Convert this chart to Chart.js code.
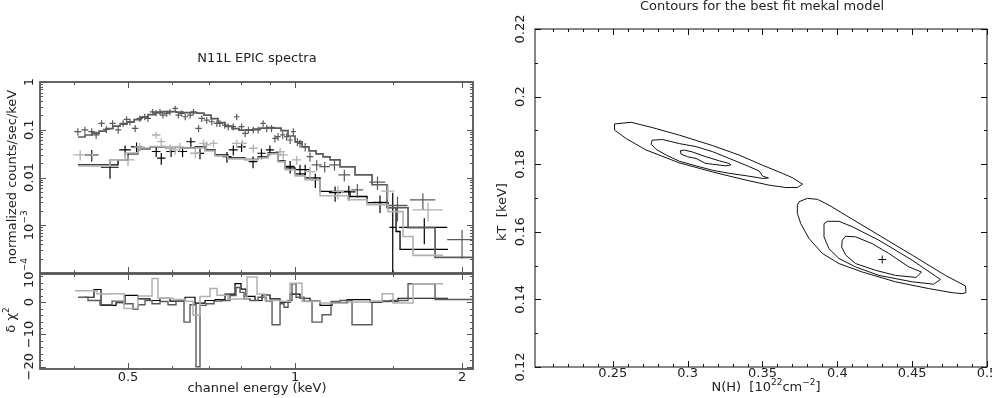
<!DOCTYPE html>
<html>
<head>
<meta charset="utf-8">
<title>N11L EPIC spectra</title>
<script src="https://cdn.jsdelivr.net/npm/chart.js@4.4.1/dist/chart.umd.min.js"></script>
<style>
  html, body { margin: 0; padding: 0; background: #fff; }
  #wrap { position: relative; width: 992px; height: 398px; overflow: hidden; }
  #wrap canvas { position: absolute; left: 0; top: 0; }
</style>
</head>
<body>
<div id="wrap">
  <canvas id="spec" width="992" height="398"></canvas>
  <canvas id="resid" width="992" height="398"></canvas>
  <canvas id="cont" width="992" height="398"></canvas>
</div>
<script>
// pn spectrum (upper, dark grey): keV, counts/sec/keV
const pnEnergy = [0.406,0.418,0.430,0.438,0.448,0.457,0.469,0.480,0.490,0.497,
  0.504,0.515,0.525,0.536,0.543,0.554,0.562,0.571,0.578,0.587,
  0.595,0.608,0.616,0.625,0.634,0.647,0.656,0.670,0.679,0.693,
  0.708,0.723,0.732,0.747,0.758,0.774,0.785,0.801,0.813,0.824,
  0.841,0.858,0.876,0.889,0.907,0.920,0.932,0.950,0.966,0.980,
  0.993,1.010,1.021,1.043,1.064,1.094,1.131,1.178,1.227,1.295,
  1.408,1.530,1.700,2.000];
const pnEnergyErr = [0.006,0.006,0.006,0.006,0.006,0.006,0.006,0.006,0.006,0.006,
  0.007,0.007,0.007,0.007,0.007,0.007,0.007,0.007,0.007,0.007,
  0.007,0.007,0.007,0.007,0.007,0.008,0.008,0.009,0.009,0.009,
  0.009,0.009,0.009,0.009,0.009,0.009,0.009,0.010,0.010,0.010,
  0.010,0.010,0.010,0.010,0.010,0.010,0.010,0.010,0.010,0.010,
  0.010,0.010,0.011,0.012,0.015,0.023,0.025,0.025,0.030,0.032,
  0.047,0.065,0.090,0.120];
const pnFlux = [0.091,0.099,0.091,0.078,0.136,0.102,0.136,0.099,0.136,0.165,
  0.147,0.107,0.173,0.187,0.173,0.237,0.226,0.237,0.203,0.220,
  0.237,0.280,0.203,0.220,0.187,0.203,0.237,0.107,0.173,0.159,
  0.147,0.136,0.136,0.125,0.116,0.116,0.187,0.116,0.084,0.099,
  0.099,0.099,0.136,0.107,0.107,0.066,0.072,0.078,0.072,0.061,
  0.091,0.056,0.052,0.044,0.0274,0.0184,0.0169,0.0184,0.0114,0.0055,
  0.0080,0.0026,0.0034,0.0005];
const pnFluxErr = [0.016,0.017,0.016,0.014,0.022,0.017,0.022,0.017,0.022,0.026,
  0.024,0.018,0.027,0.029,0.027,0.035,0.034,0.035,0.031,0.033,
  0.035,0.040,0.031,0.033,0.029,0.031,0.035,0.018,0.027,0.025,
  0.023,0.022,0.022,0.020,0.019,0.019,0.029,0.019,0.014,0.016,
  0.016,0.016,0.022,0.018,0.018,0.012,0.013,0.014,0.013,0.011,
  0.016,0.011,0.010,0.009,0.006,0.0045,0.0042,0.0045,0.0032,0.0018,
  0.0025,0.0014,0.0013,0.0003];

// MOS1 spectrum (black)
const mos1Energy = [0.430,0.464,0.494,0.518,0.562,0.574,0.598,0.627,0.649,0.674,
  0.754,0.774,0.801,0.840,0.870,0.901,0.980,1.021,1.043,1.088,
  1.181,1.250,1.423,1.500,1.710];
const mos1EnergyErr = [0.012,0.017,0.012,0.012,0.010,0.010,0.012,0.012,0.012,0.012,
  0.014,0.014,0.014,0.015,0.015,0.015,0.018,0.020,0.020,0.022,
  0.030,0.035,0.040,0.020,0.170];
const mos1Flux = [0.0297,0.0164,0.0378,0.044,0.035,0.0254,0.035,0.035,0.056,0.032,
  0.0274,0.0378,0.044,0.0216,0.0322,0.0378,0.0171,0.0146,0.0146,0.0090,
  0.0048,0.0050,0.0030,0.0009,0.0009];
const mos1FluxErr = [0.008,0.007,0.009,0.010,0.008,0.007,0.008,0.008,0.012,0.008,
  0.007,0.009,0.010,0.006,0.008,0.009,0.005,0.004,0.004,0.003,
  0.0017,0.0017,0.0012,0.0039,0.0005];

// MOS2 spectrum (light grey)
const mos2Energy = [0.410,0.431,0.500,0.525,0.562,0.574,0.595,0.608,0.620,0.661,
  0.684,0.693,0.713,0.785,0.804,0.841,0.940,0.952,1.007,1.064,
  1.195,1.470,1.737];
const mos2EnergyErr = [0.012,0.012,0.014,0.012,0.010,0.010,0.012,0.012,0.012,0.014,
  0.012,0.012,0.012,0.015,0.015,0.015,0.018,0.018,0.020,0.025,
  0.030,0.040,0.108];
const mos2Flux = [0.0297,0.0297,0.0234,0.044,0.0776,0.0562,0.041,0.0378,0.044,0.0322,
  0.052,0.048,0.052,0.052,0.052,0.041,0.0348,0.0297,0.0234,0.0133,
  0.0051,0.0052,0.0021];
const mos2FluxErr = [0.007,0.007,0.006,0.009,0.012,0.010,0.008,0.008,0.009,0.007,
  0.010,0.009,0.010,0.010,0.010,0.008,0.007,0.006,0.005,0.0035,
  0.0016,0.0016,0.0009];

// folded models, bin edges (keV) and values
const pnModelEdges = [0.4063,0.4183,0.4306,0.4434,0.4564,0.4698,0.4837,0.4979,0.5126,0.5277,
  0.5433,0.5593,0.5758,0.5928,0.6102,0.6282,0.6467,0.6658,0.6854,0.7057,
  0.7265,0.7479,0.7699,0.7926,0.8160,0.8400,0.8648,0.8903,0.9165,0.9436,
  0.9714,1.0,1.0295,1.0599,1.0911,1.1233,1.1564,1.2054,1.2828,1.3766,
  1.4650,1.5984,1.7881,2.1286];
const pnModel = [0.0705,0.0776,0.0853,0.094,0.106,0.119,0.131,0.145,0.163,0.184,
  0.207,0.228,0.239,0.239,0.234,0.228,0.228,0.223,0.202,0.171,
  0.141,0.119,0.106,0.0986,0.0986,0.1035,0.1085,0.111,0.1085,0.0962,
  0.074,0.0555,0.0436,0.036,0.0312,0.027,0.0234,0.0167,0.0114,0.00705,
  0.00234,0.000895,0.000212];
const mos1ModelEdges = [0.4063,0.4797,0.5,0.5212,0.5478,0.5830,0.6205,0.6603,0.6883,0.7175,
  0.7572,0.8126,0.8577,0.8940,0.9319,0.9593,1.0,1.0424,1.1093,1.2564,
  1.3483,1.4711,1.5208,1.5462,1.8872];
const mos1Model = [0.0184,0.0234,0.0312,0.0396,0.0436,0.0427,0.0416,0.0436,0.0378,0.0297,
  0.0257,0.0239,0.027,0.0327,0.0223,0.0159,0.0119,0.00986,0.0051,0.004,
  0.00297,0.00234,0.00074,0.000312];
const mos2ModelEdges = [0.4063,0.4640,0.4938,0.5212,0.5478,0.5830,0.6205,0.6603,0.6883,0.7175,
  0.7572,0.8126,0.8577,0.8940,0.9319,0.9593,1.0,1.0424,1.1093,1.2461,
  1.3483,1.4711,1.5656,1.6319,1.8484];
const mos2Model = [0.0175,0.0234,0.0327,0.0416,0.0446,0.0427,0.0416,0.0416,0.036,0.0283,
  0.0245,0.0234,0.0257,0.0312,0.0212,0.0145,0.0108,0.00896,0.00416,0.00343,
  0.0027,0.00193,0.000582,0.000234];

// residuals (delta chi^2), bin edges (keV) and values
const pnResEdges = [0.4063,0.4235,0.4451,0.4679,0.4918,0.5105,0.5212,0.5366,0.5524,0.5710,
  0.5903,0.6102,0.6308,0.6467,0.6630,0.6741,0.6911,0.7145,0.7386,0.7635,
  0.7828,0.7959,0.8092,0.8296,0.8577,0.8866,0.9090,0.9397,0.9554,0.9714,
  0.9876,1.0042,1.0381,1.0731,1.1186,1.1612,1.2054,1.2669,1.3766,1.4834,
  1.5984,1.7881,2.1110];
const pnRes = [1.5,0.5,-0.8,0.3,-0.5,-2.2,-0.8,0.5,-0.5,0.2,
  -0.8,0.3,-6.2,-0.8,-20,-1.0,-0.5,0.3,0.5,2.0,
  4.5,3.0,1.0,0.5,1.5,0.3,-7.0,-0.5,-1.6,0.5,
  5.7,1.5,0.3,-6.2,-3.9,0.2,0.5,-7.0,0.2,0.5,
  5.7,0.8];
const mos1ResEdges = [0.4165,0.4342,0.4470,0.4757,0.4938,0.5212,0.5478,0.5710,0.5952,0.6335,
  0.6603,0.6883,0.7175,0.7479,0.7796,0.7992,0.8160,0.8470,0.8720,0.9014,
  0.9397,0.9795,1.0210,1.0643,1.1093,1.1660,1.2409,1.3652,1.4349,1.5334,
  1.8872];
const mos1Res = [1.5,3.9,-1.0,-0.2,2.1,1.0,0.5,1.2,0.3,1.5,
  -0.3,0.5,0.8,2.5,5.7,4.0,1.8,0.5,2.2,1.0,
  0.0,2.5,1.2,0.3,-1.0,-0.2,0.8,0.0,0.3,1.2];
const mos2ResEdges = [0.4013,0.4396,0.4640,0.4918,0.5212,0.5524,0.5663,0.6027,0.6335,0.6548,
  0.6741,0.7027,0.7234,0.7572,0.8194,0.8541,0.8829,0.9397,0.9795,1.0295,
  1.1093,1.2461,1.3652,1.4349,1.5019,1.6319,1.8484];
const mos2Res = [3.5,2.5,2.6,-2.0,1.9,7.3,1.2,0.8,0.3,-4.0,
  1.7,4.2,2.1,1.0,7.8,2.5,0.5,0.3,5.8,0.2,
  -0.3,0.0,0.3,2.6,-0.3,5.7];

// axis ticks for the spectrum panels
const specXMajor = [0.5, 1, 2];
const specXMinor = [0.4, 0.6, 0.7, 0.8, 0.9, 1.5];
const specXLabels = ['0.5', '1', '2'];
const specYDecades = [1e-4, 1e-3, 0.01, 0.1, 1];
const specYLabels = ['10^{\u22124}', '10^{\u22123}', '0.01', '0.1', '1'];
const residYMajor = [-20, -10, 0];
const residYMinor = [-18, -16, -14, -12, -8, -6, -4, -2, 2, 4, 6, 8];
const residYLabels = ['\u221220', '\u221210', '0'];

// confidence contours, N(H) [1e22 cm^-2] vs kT [keV]
const upperOuter = [[0.2511,0.1919],[0.2622,0.1924],[0.2767,0.1908],[0.2944,0.1886],[0.3167,0.1855],
  [0.3344,0.1827],[0.3500,0.1797],[0.3633,0.1773],[0.3700,0.1760],[0.3767,0.1741],
  [0.3733,0.1731],[0.3656,0.1731],[0.3544,0.1738],[0.3389,0.1753],[0.3167,0.1777],
  [0.2944,0.1804],[0.2722,0.1842],[0.2589,0.1876],[0.2511,0.1901],[0.2511,0.1919]];
const upperMiddle = [[0.2762,0.1871],[0.2833,0.1873],[0.2944,0.1861],[0.3056,0.1852],[0.3167,0.1837],
  [0.3278,0.1817],[0.3389,0.1797],[0.3478,0.1780],[0.3500,0.1765],[0.3540,0.1759],
  [0.3500,0.1758],[0.3389,0.1766],[0.3278,0.1773],[0.3167,0.1782],[0.3056,0.1795],
  [0.2944,0.1809],[0.2856,0.1827],[0.2789,0.1844],[0.2756,0.1859],[0.2762,0.1871]];
const upperInner = [[0.2951,0.1840],[0.2978,0.1842],[0.3033,0.1836],[0.3122,0.1822],[0.3211,0.1810],
  [0.3278,0.1802],[0.3289,0.1798],[0.3256,0.1795],[0.3167,0.1800],[0.3122,0.1802],
  [0.3056,0.1817],[0.3000,0.1822],[0.2956,0.1830],[0.2951,0.1840]];
const lowerOuter = [[0.3733,0.1679],[0.3744,0.1689],[0.3800,0.1699],[0.3867,0.1696],[0.3944,0.1679],
  [0.4056,0.1649],[0.4278,0.1590],[0.4500,0.1531],[0.4722,0.1471],[0.4856,0.1440],
  [0.4860,0.1420],[0.4833,0.1417],[0.4767,0.1420],[0.4611,0.1432],[0.4389,0.1452],
  [0.4167,0.1481],[0.4011,0.1506],[0.3900,0.1536],[0.3811,0.1580],[0.3756,0.1624],
  [0.3733,0.1654],[0.3733,0.1679]];
const lowerMiddle = [[0.3911,0.1624],[0.3933,0.1631],[0.4011,0.1631],[0.4100,0.1615],[0.4278,0.1575],
  [0.4500,0.1516],[0.4689,0.1459],[0.4644,0.1445],[0.4500,0.1452],[0.4278,0.1471],
  [0.4122,0.1496],[0.4011,0.1521],[0.3944,0.1550],[0.3911,0.1585],[0.3911,0.1605],[0.3911,0.1624]];
const lowerInner = [[0.4033,0.1575],[0.4056,0.1587],[0.4122,0.1585],[0.4233,0.1565],[0.4344,0.1536],
  [0.4478,0.1496],[0.4562,0.1481],[0.4527,0.1465],[0.4389,0.1471],[0.4256,0.1486],
  [0.4122,0.1506],[0.4056,0.1531],[0.4029,0.1555],[0.4033,0.1575]];
const bestFit = [0.430, 0.1518];

const contXMajor = [0.25, 0.3, 0.35, 0.4, 0.45, 0.5];
const contXLabels = ['0.25', '0.3', '0.35', '0.4', '0.45', '0.5'];
const contYMajor = [0.12, 0.14, 0.16, 0.18, 0.2, 0.22];
const contYLabels = ['0.12', '0.14', '0.16', '0.18', '0.2', '0.22'];

const FONT = '"DejaVu Sans", sans-serif';
const DARK = '#5a5a5a', LIGHT = '#b0b0b0', BLACK = '#000';

// split "10^{22}" style strings into normal / superscript runs
function richParts(str) {
  const parts = [];
  const re = /\^\{([^}]*)\}/g;
  let last = 0, m;
  while ((m = re.exec(str))) {
    if (m.index > last) parts.push({ t: str.slice(last, m.index), sup: false });
    parts.push({ t: m[1], sup: true });
    last = re.lastIndex;
  }
  if (last < str.length) parts.push({ t: str.slice(last), sup: false });
  return parts;
}

function drawRich(ctx, str, x, y, size, rot) {
  const parts = richParts(str);
  const supSize = Math.round(size * 0.72);
  let w = 0;
  parts.forEach(p => {
    ctx.font = (p.sup ? supSize : size) + 'px ' + FONT;
    p.w = ctx.measureText(p.t).width;
    w += p.w;
  });
  ctx.save();
  ctx.translate(x, y);
  if (rot) ctx.rotate(rot);
  ctx.textBaseline = 'middle';
  ctx.textAlign = 'left';
  let cx = -w / 2;
  parts.forEach(p => {
    ctx.font = (p.sup ? supSize : size) + 'px ' + FONT;
    ctx.fillText(p.t, cx, p.sup ? -size * 0.42 : 0);
    cx += p.w;
  });
  ctx.restore();
}

// box frame with inward ticks on all sides, plus labels
const framePlugin = {
  id: 'frame',
  afterDraw(chart, args, o) {
    const { ctx, chartArea: a } = chart;
    const sx = chart.scales.x, sy = chart.scales.y;
    ctx.save();
    ctx.strokeStyle = o.color;
    ctx.lineWidth = o.width;
    ctx.strokeRect(a.left, a.top, a.right - a.left, a.bottom - a.top);
    ctx.lineWidth = o.tickWidth;
    ctx.beginPath();
    const xt = (list, len) => list.forEach(v => {
      const p = Math.round(sx.getPixelForValue(v)) + 0.5;
      ctx.moveTo(p, a.bottom); ctx.lineTo(p, a.bottom - len);
      ctx.moveTo(p, a.top); ctx.lineTo(p, a.top + len);
    });
    const yt = (list, len) => list.forEach(v => {
      const p = Math.round(sy.getPixelForValue(v)) + 0.5;
      ctx.moveTo(a.left, p); ctx.lineTo(a.left + len, p);
      ctx.moveTo(a.right, p); ctx.lineTo(a.right - len, p);
    });
    xt(o.xMajor, o.majorLen); xt(o.xMinor, o.minorLen);
    yt(o.yMajor, o.majorLen); yt(o.yMinor, o.minorLen);
    ctx.stroke();
    ctx.fillStyle = o.textColor;
    (o.xLabels || []).forEach((t, i) =>
      drawRich(ctx, t, sx.getPixelForValue(o.xLabelValues[i]), o.xLabelY, o.fontSize, 0));
    (o.yLabels || []).forEach((t, i) =>
      drawRich(ctx, t, o.yLabelX, sy.getPixelForValue(o.yLabelValues[i]), o.fontSize, -Math.PI / 2));
    (o.texts || []).forEach(t => drawRich(ctx, t.text, t.x, t.y, o.fontSize, t.rot || 0));
    ctx.restore();
  }
};

function lineSet(data, color, width) {
  return { data, showLine: true, borderColor: color, borderWidth: width,
    pointRadius: 0, pointHoverRadius: 0, spanGaps: false, tension: 0 };
}

// error-bar crosses as separate little segments
function crosses(E, dE, F, dF) {
  const pts = [];
  for (let i = 0; i < E.length; i++) {
    pts.push({ x: E[i] - dE[i], y: F[i] }, { x: E[i] + dE[i], y: F[i] }, { x: E[i], y: null });
    pts.push({ x: E[i], y: Math.max(F[i] - dF[i], 1e-6) }, { x: E[i], y: F[i] + dF[i] }, { x: E[i], y: null });
  }
  return pts;
}

function histogram(edges, values) {
  const pts = [];
  values.forEach((v, i) => pts.push({ x: edges[i], y: v }, { x: edges[i + 1], y: v }));
  return pts;
}

function polygon(list) {
  return list.map(p => ({ x: p[0], y: p[1] }));
}

const logMinor = [];
specYDecades.slice(0, -1).forEach(d => { for (let m = 2; m <= 9; m++) logMinor.push(d * m); });

const quiet = { legend: { display: false }, tooltip: { enabled: false } };
const energyAxis = { type: 'logarithmic', min: 0.347, max: 2.093, display: false, bounds: 'data' };

// upper-left: spectra
new Chart(document.getElementById('spec'), {
  type: 'scatter',
  data: { datasets: [
    lineSet(histogram(mos2ModelEdges, mos2Model), LIGHT, 1.6),
    lineSet(crosses(mos2Energy, mos2EnergyErr, mos2Flux, mos2FluxErr), LIGHT, 1.3),
    lineSet(histogram(pnModelEdges, pnModel), DARK, 1.7),
    lineSet(crosses(pnEnergy, pnEnergyErr, pnFlux, pnFluxErr), DARK, 1.2),
    lineSet(histogram(mos1ModelEdges, mos1Model), BLACK, 1.3),
    lineSet(crosses(mos1Energy, mos1EnergyErr, mos1Flux, mos1FluxErr), BLACK, 1.2)
  ] },
  options: {
    responsive: false, animation: false, events: [],
    layout: { padding: { left: 40, right: 519, top: 82, bottom: 125 } },
    scales: {
      x: energyAxis,
      y: { type: 'logarithmic', min: 1e-4, max: 1, display: false, bounds: 'data' }
    },
    plugins: Object.assign({}, quiet, {
      frame: {
        color: '#555', width: 1.8, tickWidth: 1, majorLen: 6, minorLen: 3,
        xMajor: specXMajor, xMinor: specXMinor,
        yMajor: specYDecades, yMinor: logMinor,
        textColor: '#222', fontSize: 13,
        yLabels: specYLabels, yLabelValues: specYDecades, yLabelX: 30,
        texts: [
          { text: 'N11L EPIC spectra', x: 257, y: 59 },
          { text: 'normalized counts/sec/keV', x: 13, y: 177, rot: -Math.PI / 2 }
        ]
      }
    })
  },
  plugins: [framePlugin]
});

// lower-left: residuals
new Chart(document.getElementById('resid'), {
  type: 'scatter',
  data: { datasets: [
    lineSet(histogram(mos2ResEdges, mos2Res), LIGHT, 1.5),
    lineSet(histogram(pnResEdges, pnRes), DARK, 1.4),
    lineSet(histogram(mos1ResEdges, mos1Res), BLACK, 1.2)
  ] },
  options: {
    responsive: false, animation: false, events: [],
    layout: { padding: { left: 40, right: 519, top: 274, bottom: 29 } },
    scales: {
      x: energyAxis,
      y: { type: 'linear', min: -20.7, max: 8.7, display: false, bounds: 'data' }
    },
    plugins: Object.assign({}, quiet, {
      frame: {
        color: '#555', width: 1.8, tickWidth: 1, majorLen: 6, minorLen: 3,
        xMajor: specXMajor, xMinor: specXMinor,
        yMajor: residYMajor, yMinor: residYMinor,
        textColor: '#222', fontSize: 13,
        xLabels: specXLabels, xLabelValues: specXMajor, xLabelY: 378,
        yLabels: residYLabels, yLabelValues: residYMajor, yLabelX: 30,
        texts: [
          { text: 'channel energy (keV)', x: 257, y: 389 },
          { text: '\u03b4 \u03c7^{2}', x: 12, y: 320, rot: -Math.PI / 2 }
        ]
      }
    })
  },
  plugins: [framePlugin]
});

// right: contours
const contMinorX = [], contMinorY = [];
for (let i = 20; i <= 50; i++) if (i % 5) contMinorX.push(i / 100);
for (let i = 12; i <= 22; i++) if (i % 2) contMinorY.push(i / 100);

new Chart(document.getElementById('cont'), {
  type: 'scatter',
  data: { datasets: [
    lineSet(polygon(upperOuter), '#111', 1),
    lineSet(polygon(upperMiddle), '#111', 1),
    lineSet(polygon(upperInner), '#111', 1),
    lineSet(polygon(lowerOuter), '#111', 1),
    lineSet(polygon(lowerMiddle), '#111', 1),
    lineSet(polygon(lowerInner), '#111', 1),
    { data: [{ x: bestFit[0], y: bestFit[1] }], pointStyle: 'cross', pointRadius: 4,
      borderColor: '#111', borderWidth: 1, pointHoverRadius: 4 }
  ] },
  options: {
    responsive: false, animation: false, events: [],
    layout: { padding: { left: 535, right: 3, top: 29, bottom: 31 } },
    scales: {
      x: { type: 'linear', min: 0.198, max: 0.5, display: false, bounds: 'data' },
      y: { type: 'linear', min: 0.12, max: 0.22, display: false, bounds: 'data' }
    },
    plugins: Object.assign({}, quiet, {
      frame: {
        color: '#111', width: 1, tickWidth: 1, majorLen: 6, minorLen: 3,
        xMajor: contXMajor, xMinor: contMinorX,
        yMajor: contYMajor, yMinor: contMinorY,
        textColor: '#222', fontSize: 13,
        xLabels: contXLabels, xLabelValues: contXMajor, xLabelY: 374,
        yLabels: contYLabels, yLabelValues: contYMajor, yLabelX: 521,
        texts: [
          { text: 'Contours for the best fit mekal model', x: 762, y: 7 },
          { text: 'N(H)  [10^{22}cm^{\u22122}]', x: 766, y: 388 },
          { text: 'kT  [keV]', x: 503, y: 212, rot: -Math.PI / 2 }
        ]
      }
    })
  },
  plugins: [framePlugin]
});
</script>
</body>
</html>
